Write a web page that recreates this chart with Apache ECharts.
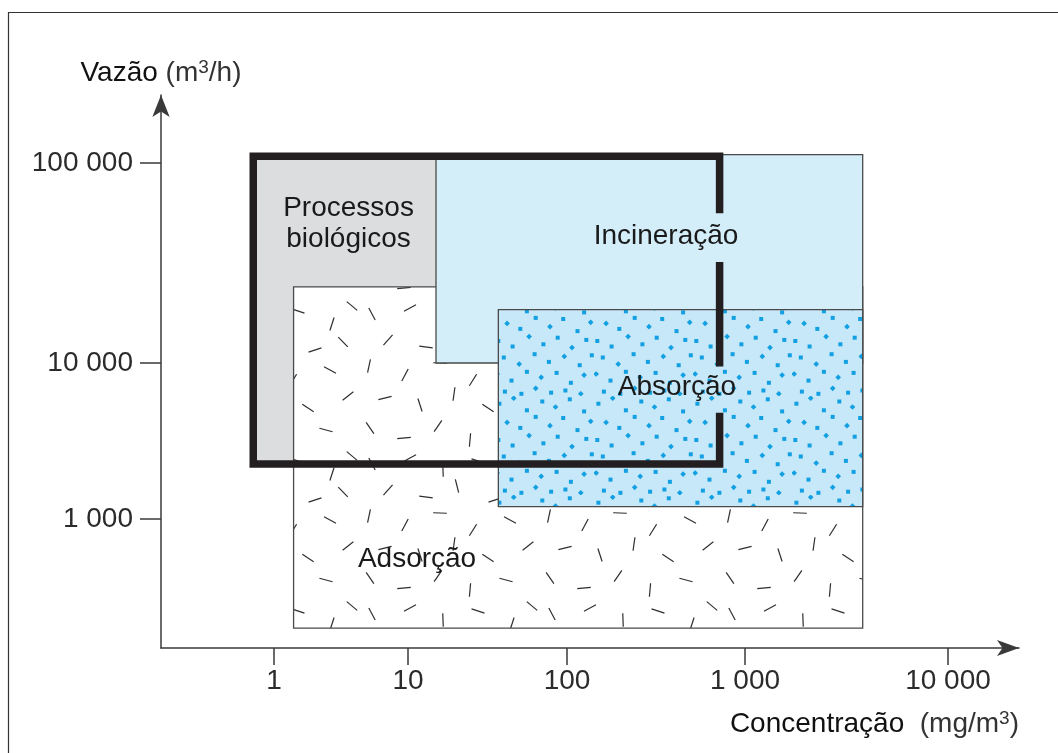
<!DOCTYPE html>
<html><head><meta charset="utf-8">
<script src="https://cdn.jsdelivr.net/npm/echarts@6/dist/echarts.min.js"></script>
<style>html,body{margin:0;padding:0;background:#fff}#c{width:1058px;height:753px}</style>
</head><body><div id="c"></div>
<script>
// ---------------- data ----------------
const xTickValues = [1, 10, 100, 1000, 10000];            // mg/m3
const xTickLabels = ['1', '10', '100', '1 000', '10 000'];
const yTickValues = [1000, 10000, 100000];                // m3/h
const yTickLabels = ['1 000', '10 000', '100 000'];

// region extents: [xMin, xMax, yMin, yMax]  (mg/m3, m3/h)
const processosRange   = [0.7, 720, 2250, 108000];
const adsorcaoRange    = [1.4, 3800, 200, 24000];
const incineracaoRange = [15, 3800, 10000, 110000];
const absorcaoRange    = [37, 3800, 1200, 18500];

// thick outline of "Processos biológicos" (two pieces, gaps around labels)
const frameOuterPiece = [[720, 4800], [720, 2250], [0.7, 2250], [0.7, 108000], [720, 108000], [720, 56000]];
const frameMiddlePiece = [[720, 32000], [720, 9500]];

// region label anchors (mg/m3, m3/h)
const labelTexts = ['Processos\nbiológicos', 'Incineração', 'Absorção', 'Adsorção'];
const labelX = [3.6, 360, 415, 11.4];
const labelY = [49500, 43000, 7000, 550];

// ---------------- schematic (non-uniform) log scale ----------------
// The figure is hand-drawn: decades are not equally spaced. Each decade's
// place along the axis (axis length units) defines a piecewise log scale.
const X_LOG = [0, 1, 2, 3, 4], X_AT = [113, 247, 406, 584, 787], X_LEN = 858;
const Y_LOG = [3, 4, 5],       Y_AT = [129, 285, 485],           Y_LEN = 553;
function warp(v, logs, at) {
  const L = Math.log10(v);
  let i = 0;
  while (i < logs.length - 2 && L > logs[i + 1]) i++;
  return at[i] + (L - logs[i]) / (logs[i + 1] - logs[i]) * (at[i + 1] - at[i]);
}
const wx = v => warp(v, X_LOG, X_AT);
const wy = v => warp(v, Y_LOG, Y_AT);
const xTickPos = xTickValues.map(wx);
const yTickPos = yTickValues.map(wy);
function labelAt(v, pos, labels) {
  for (let i = 0; i < pos.length; i++) if (Math.abs(pos[i] - v) < 0.5) return labels[i];
  return '';
}

// ---------------- textures (decorative fills) ----------------
const DASHES = [
  [12,14,62],[50,8,-28],[83,20,88],[118,11,18],[152,24,-72],[172,6,40],
  [28,40,-48],[66,47,8],[97,36,76],[135,50,-18],[163,42,46],
  [9,66,102],[45,75,-62],[80,63,2],[113,80,122],[150,70,28],
  [25,98,-14],[60,105,72],[94,94,-82],[128,108,34],[168,96,-38],
  [10,128,55],[44,138,-5],[78,126,-55],[110,140,95],[146,130,15]
];
const DOTS = [
  [4,7],[17,2],[29,13],[43,5],[55,10],[68,3],[81,14],
  [11,24],[23,29],[37,19],[50,27],[62,20],[75,31],[87,23],
  [3,40],[16,45],[31,36],[44,43],[57,37],[70,46],[83,39],
  [8,55],[22,61],[36,52],[49,59],[63,54],[77,62],[88,53],
  [2,70],[15,76],[29,68],[42,73],[56,69],[69,78],[81,71],
  [9,86],[24,88],[37,83],[51,87],[64,85],[78,88]
];
function dashTile() {
  const c = document.createElement('canvas'); c.width = 180; c.height = 150;
  const g = c.getContext('2d');
  g.strokeStyle = '#2e2e2e'; g.lineWidth = 1.2;
  DASHES.forEach(([x, y, a]) => {
    const r = a * Math.PI / 180, dx = Math.cos(r) * 6.8, dy = Math.sin(r) * 6.8;
    g.beginPath(); g.moveTo(x - dx, y - dy); g.lineTo(x + dx, y + dy); g.stroke();
  });
  return c;
}
function dotTile() {
  const c = document.createElement('canvas'); c.width = 99; c.height = 99;
  const g = c.getContext('2d');
  g.fillStyle = '#12a0e2';
  DOTS.forEach(([x, y], i) => {
    g.save(); g.translate(x * 1.1, y * 1.1);
    if (i % 3 === 1) g.rotate(Math.PI / 4);
    g.fillRect(-2, -2, 4, 4);
    g.restore();
  });
  return c;
}
const DASH_TILE = dashTile(), DOT_TILE = dotTile();

function rectSeries(range, fill, pattern, stroke, z) {
  return {
    type: 'custom', z: z, silent: true, animation: false,
    encode: { x: [0, 1], y: [2, 3] },
    data: [[wx(range[0]), wx(range[1]), wy(range[2]), wy(range[3])]],
    renderItem: function (params, api) {
      const p0 = api.coord([api.value(0), api.value(2)]);
      const p1 = api.coord([api.value(1), api.value(3)]);
      const shape = { x: p0[0], y: p1[1], width: p1[0] - p0[0], height: p0[1] - p1[1] };
      const children = [{ type: 'rect', shape: shape, style: { fill: fill } }];
      if (pattern) children.push({ type: 'rect', shape: shape, style: { fill: { image: pattern, repeat: 'repeat' } } });
      if (stroke) children.push({ type: 'rect', shape: shape, style: { fill: 'none', stroke: '#4a4a4a', lineWidth: 1.3 } });
      return { type: 'group', children: children };
    }
  };
}
function frameSeries(points) {
  return {
    type: 'line', z: 10, silent: true, animation: false, symbol: 'none',
    data: points.map(p => [wx(p[0]), wy(p[1])]),
    lineStyle: { color: '#231f20', width: 7.5, join: 'miter', cap: 'butt' }
  };
}

const FONT = '"Liberation Sans", Arial, Helvetica, sans-serif';
const axisColor = '#3a3a3a';
const richTitle = {
  a: { color: '#111', fontSize: 28, fontFamily: FONT, lineHeight: 30 },
  b: { color: '#333', fontSize: 28, fontFamily: FONT, lineHeight: 30 },
  s: { color: '#333', fontSize: 19, fontFamily: FONT, lineHeight: 19, verticalAlign: 'top' }
};

const chart = echarts.init(document.getElementById('c'));
chart.setOption({
  backgroundColor: '#ffffff',
  animation: false,
  grid: { left: 161, top: 95, width: X_LEN, height: Y_LEN, containLabel: false },
  graphic: [{
    type: 'rect', silent: true, z: -10,
    shape: { x: 8.5, y: 12.5, width: 1200, height: 900 },
    style: { fill: 'none', stroke: '#333', lineWidth: 1.2 }
  }],
  xAxis: {
    type: 'value', min: 0, max: X_LEN,
    splitLine: { show: false },
    axisLine: { show: true, onZero: false, symbol: ['none', 'arrow'], symbolSize: [12, 22],
      lineStyle: { color: axisColor, width: 1.5 } },
    axisTick: { show: true, length: 17, customValues: xTickPos, lineStyle: { color: axisColor, width: 1.5 } },
    axisLabel: { customValues: xTickPos, formatter: v => labelAt(v, xTickPos, xTickLabels),
      margin: 19, fontSize: 28, color: '#2b2b2b', fontFamily: FONT },
    name: '{a|Concentração}  {b|(mg/m}{s|3}{b|)}',
    nameLocation: 'end', nameGap: 0,
    nameTextStyle: { align: 'right', verticalAlign: 'top', padding: [61, 0, 0, 0],
      fontFamily: FONT, fontSize: 28, rich: richTitle }
  },
  yAxis: {
    type: 'value', min: 0, max: Y_LEN,
    splitLine: { show: false },
    axisLine: { show: true, onZero: false, symbol: ['none', 'arrow'], symbolSize: [13, 22],
      lineStyle: { color: axisColor, width: 1.5 } },
    axisTick: { show: true, length: 21, customValues: yTickPos, lineStyle: { color: axisColor, width: 1.5 } },
    axisLabel: { customValues: yTickPos, formatter: v => labelAt(v, yTickPos, yTickLabels),
      margin: 28, fontSize: 28, color: '#2b2b2b', fontFamily: FONT },
    name: '{a|Vazão} {b|(m}{s|3}{b|/h)}',
    nameLocation: 'end', nameGap: 7,
    nameTextStyle: { align: 'center', verticalAlign: 'bottom', fontFamily: FONT, fontSize: 28, lineHeight: 30,
      rich: richTitle }
  },
  series: [
    rectSeries(processosRange, '#dcdddf', null, false, 2),
    rectSeries(adsorcaoRange, '#ffffff', DASH_TILE, true, 3),
    rectSeries(incineracaoRange, '#d3edf9', null, true, 4),
    rectSeries(absorcaoRange, '#c7e8f8', DOT_TILE, true, 5),
    frameSeries(frameOuterPiece),
    frameSeries(frameMiddlePiece),
    {
      type: 'custom', z: 20, silent: true, animation: false,
      encode: { x: 0, y: 1 },
      data: labelX.map((x, i) => [wx(x), wy(labelY[i])]),
      renderItem: function (params, api) {
        const p = api.coord([api.value(0), api.value(1)]);
        return { type: 'text', x: p[0], y: p[1],
          style: { text: labelTexts[params.dataIndex], align: 'center', verticalAlign: 'middle',
            fill: '#1a1a1a', font: '28px ' + FONT, lineHeight: 31 } };
      }
    }
  ]
});
</script>
</body></html>
